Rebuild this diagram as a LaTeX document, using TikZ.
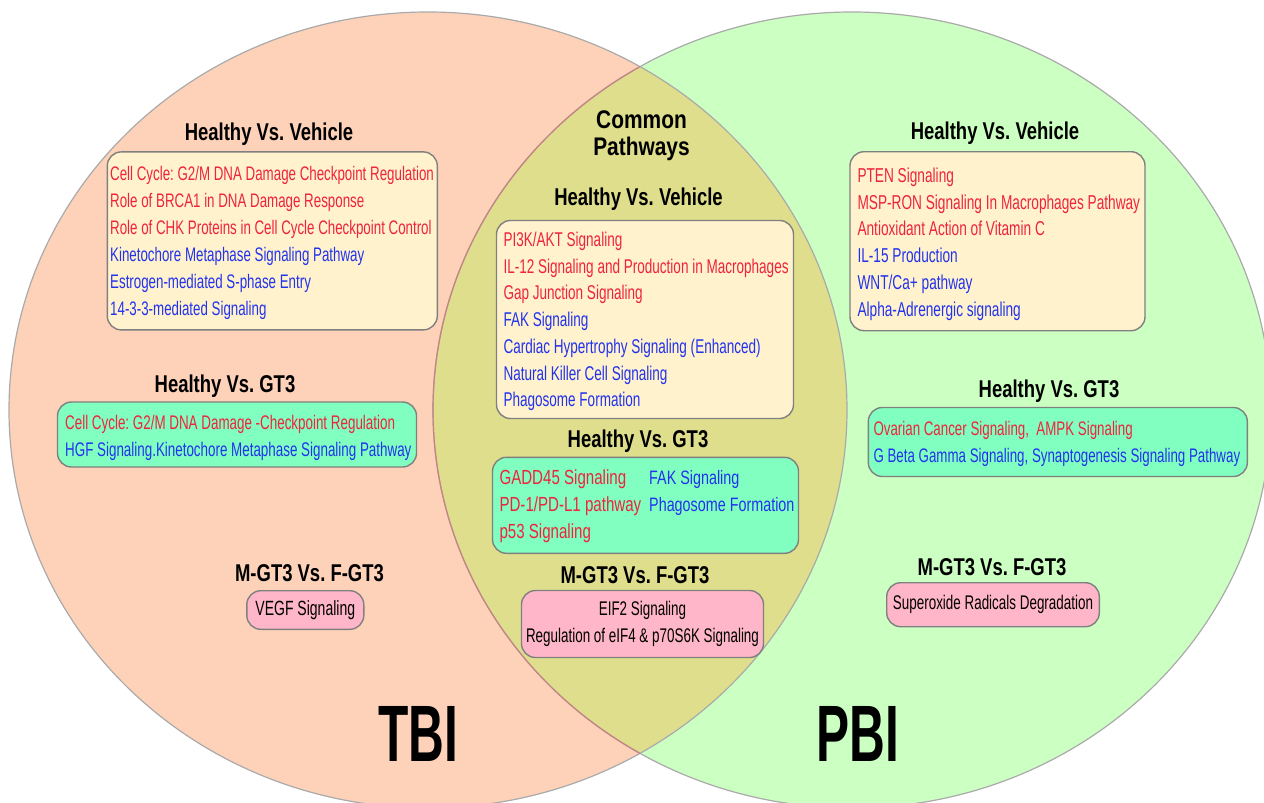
\documentclass[tikz,border=0pt]{standalone}
\usepackage{fontspec}
\setmainfont{Liberation Sans}
\newfontfamily\bodyf{Liberation Sans}[FakeStretch=0.68]
\newfontfamily\widef{Liberation Sans}[FakeStretch=0.74]
\newfontfamily\headf{Liberation Sans}[FakeStretch=0.76]
\newfontfamily\commf{Liberation Sans}[FakeStretch=0.82]
\newfontfamily\bigf{Liberation Sans}[FakeStretch=0.62]
\frenchspacing
\definecolor{peach}{RGB}{253,210,185}
\definecolor{lgreen}{RGB}{204,255,194}
\definecolor{olive}{RGB}{222,222,140}
\definecolor{edge}{RGB}{170,170,170}
\definecolor{lensedge}{RGB}{200,130,130}
\definecolor{cream}{RGB}{255,242,204}
\definecolor{aqua}{RGB}{128,255,192}
\definecolor{pinkb}{RGB}{255,182,200}
\definecolor{boxedge}{RGB}{128,128,128}
\definecolor{txtred}{RGB}{238,36,62}
\definecolor{txtblue}{RGB}{34,51,238}
\newcommand\rtx[1]{\textcolor{txtred}{#1}}
\newcommand\btx[1]{\textcolor{txtblue}{#1}}
\begin{document}
\begin{tikzpicture}[x=1pt,y=-1pt,
  pbox/.style={draw=boxedge, line width=1.4pt, rounded corners=14pt, inner sep=0pt},
  btext/.style={font=\bodyf\fontsize{#1}{27}\selectfont, align=left, inner sep=0pt, anchor=west},
  wtext/.style={font=\widef\fontsize{#1}{27}\selectfont, align=left, inner sep=0pt, anchor=west},
  ctext/.style={font=\bodyf\fontsize{#1}{27}\selectfont, align=center},
  htext/.style={font=\headf\bfseries\fontsize{24.3}{28}\selectfont, inner sep=0pt},
  bigtext/.style={font=\bigf\bfseries\fontsize{80}{80}\selectfont, inner sep=0pt},
  venn/.style={x radius=419pt, y radius=398pt}]
\useasboundingbox (0,0) rectangle (1264,803);
\coordinate (tbic) at (428,410);
\coordinate (pbic) at (852,410);
\begin{scope}
  \clip (0,0) rectangle (1264,803);
  \fill[peach] (tbic) ellipse [venn];
  \fill[lgreen] (pbic) ellipse [venn];
  \begin{scope}
    \clip (tbic) ellipse [venn];
    \fill[olive] (pbic) ellipse [venn];
  \end{scope}
  \draw[edge, line width=1.2pt] (tbic) ellipse [venn];
  \draw[edge, line width=1.2pt] (pbic) ellipse [venn];
  \begin{scope}
    \clip (tbic) ellipse [venn];
    \draw[lensedge, line width=1.2pt] (pbic) ellipse [venn];
  \end{scope}
\end{scope}

% ---------- TBI side ----------
\node[htext] (lhv) at (269,134.4) {Healthy Vs. Vehicle};
\node[pbox, fill=cream, minimum width=330pt, minimum height=178pt] (lvbox) at (272.3,240.9) {};
\node[btext=19.6] (lvtxt) at (110,243) {\rtx{Cell Cycle: G2/M DNA Damage Checkpoint Regulation}\\
\rtx{Role of BRCA1 in DNA Damage Response}\\
\rtx{Role of CHK Proteins in Cell Cycle Checkpoint Control}\\
\btx{Kinetochore Metaphase Signaling Pathway}\\
\btx{Estrogen-mediated S-phase Entry}\\
\btx{14-3-3-mediated Signaling}};

\node[htext] (lgt) at (225,386.5) {Healthy Vs. GT3};
\node[pbox, fill=aqua, minimum width=359pt, minimum height=65pt] (lgbox) at (237,434.5) {};
\node[btext=19.7] (lgtxt) at (65,438) {\rtx{Cell Cycle: G2/M DNA Damage -Checkpoint Regulation}\\
\btx{HGF Signaling.Kinetochore Metaphase Signaling Pathway}};

\node[htext] (lmf) at (309.5,573.5) {M-GT3 Vs. F-GT3};
\node[pbox, fill=pinkb, minimum width=117pt, minimum height=38.6pt, font=\bodyf\fontsize{20.6}{27}\selectfont] (lmbox) at (305.3,610) {VEGF Signaling};

\node[bigtext] (tbi) at (418,734.4) {TBI};

% ---------- Common ----------
\node[font=\commf\bfseries\fontsize{25.5}{26.7}\selectfont, align=center, inner sep=0pt] (common) at (641.5,135.5) {Common\\Pathways};

\node[htext] (chv) at (638.5,199.5) {Healthy Vs. Vehicle};
\node[pbox, fill=cream, minimum width=297pt, minimum height=198pt] (cvbox) at (645,319.5) {};
\node[btext=19.9, font=\bodyf\fontsize{19.9}{26.7}\selectfont] (cvtxt) at (503.3,321.5) {\rtx{PI3K/AKT Signaling}\\
\rtx{IL-12 Signaling and Production in Macrophages}\\
\rtx{Gap Junction Signaling}\\
\btx{FAK Signaling}\\
\btx{Cardiac Hypertrophy Signaling (Enhanced)}\\
\btx{Natural Killer Cell Signaling}\\
\btx{Phagosome Formation}};

\node[htext] (cgt) at (638,441.5) {Healthy Vs. GT3};
\node[pbox, fill=aqua, minimum width=306pt, minimum height=96pt] (cgbox) at (645.5,505.3) {};
\node[wtext=20.4] (cgl) at (499.3,506.5) {\rtx{GADD45 Signaling}\\
\rtx{PD-1/PD-L1 pathway}\\
\rtx{p53 Signaling}};
\node[wtext=19.4] (cgr) at (649,493) {\btx{FAK Signaling}\\
\btx{Phagosome Formation}};

\node[htext] (cmf) at (635,575.5) {M-GT3 Vs. F-GT3};
\node[pbox, fill=pinkb, minimum width=242pt, minimum height=67pt, ctext=19.75] (cmbox) at (642.5,624) {EIF2 Signaling\\Regulation of eIF4 \& p70S6K Signaling};

% ---------- PBI side ----------
\node[htext] (rhv) at (995,133.5) {Healthy Vs. Vehicle};
\node[pbox, fill=cream, minimum width=295pt, minimum height=179pt] (rvbox) at (997.5,241.2) {};
\node[btext=20.1, font=\bodyf\fontsize{20.1}{26.8}\selectfont] (rvtxt) at (857.3,244) {\rtx{PTEN Signaling}\\
\rtx{MSP-RON Signaling In Macrophages Pathway}\\
\rtx{Antioxidant Action of Vitamin C}\\
\btx{IL-15 Production}\\
\btx{WNT/Ca+ pathway}\\
\btx{Alpha-Adrenergic signaling}};

\node[htext] (rgt) at (1049,391.5) {Healthy Vs. GT3};
\node[pbox, fill=aqua, minimum width=379pt, minimum height=69pt] (rgbox) at (1057.8,442) {};
\node[btext=19.6] (rgtxt) at (873.3,444) {\rtx{Ovarian Cancer Signaling,\ \ AMPK Signaling}\\
\btx{G Beta Gamma Signaling, Synaptogenesis Signaling Pathway}};

\node[htext] (rmf) at (992,567.5) {M-GT3 Vs. F-GT3};
\node[pbox, fill=pinkb, minimum width=212.6pt, minimum height=44pt, font=\bodyf\fontsize{19.75}{27}\selectfont] (rmbox) at (993,604.7) {Superoxide Radicals Degradation};

\node[bigtext] (pbi) at (857.5,734.4) {PBI};
\end{tikzpicture}
\end{document}
